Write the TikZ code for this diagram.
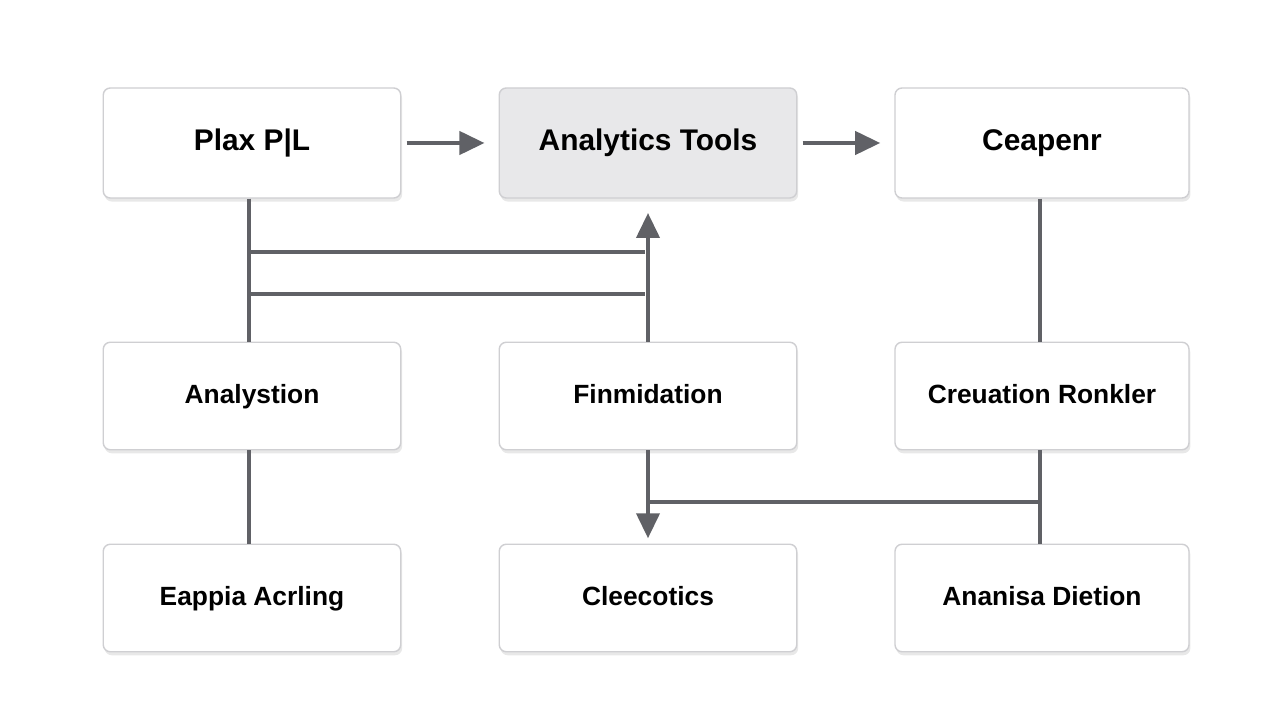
\documentclass[tikz,border=0pt]{standalone}
\usepackage{fontspec}
\setmainfont{Liberation Sans}
\usetikzlibrary{shadows,arrows.meta}
\definecolor{linegray}{HTML}{606166}
\definecolor{boxline}{HTML}{CFCFD2}
\definecolor{boxfill}{HTML}{E8E8EA}

\begin{document}
\begin{tikzpicture}[>={Triangle[length=5mm,width=4.6mm]},
  box/.style={draw=boxline,line width=0.8pt,fill=white,rounded corners=4pt,
    minimum width=5.95cm,minimum height=2.15cm,text height=2.3ex,text depth=0.6ex,
    font=\bfseries\fontsize{15}{18}\selectfont,
    drop shadow={opacity=0.18,shadow xshift=0.8pt,shadow yshift=-2pt}},
  wire/.style={linegray,line width=2.3pt}]
            \fill[white] (0,0) rectangle (25.6,14.4);

            \node[box,minimum height=2.2cm,font=\bfseries\fontsize{17}{20}\selectfont] (plax) at (5.04,11.54) {Plax P|L};
            \node[box,minimum height=2.2cm,fill=boxfill,font=\bfseries\fontsize{17}{20}\selectfont] (tools) at (12.96,11.54) {Analytics Tools};
            \node[box,minimum height=2.2cm,minimum width=5.88cm,font=\bfseries\fontsize{17}{20}\selectfont] (ceap) at (20.84,11.54) {Ceapenr};

            \node[box] (anal) at (5.04,6.48) {Analystion};
            \node[box] (finm) at (12.96,6.48) {Finmidation};
            \node[box,minimum width=5.88cm] (crel) at (20.84,6.48) {Creuation Ronkler};

            \node[box] (eapp) at (5.04,2.44) {Eappia Acrling};
            \node[box] (clee) at (12.96,2.44) {Cleecotics};
            \node[box,minimum width=5.88cm] (anan) at (20.84,2.44) {Ananisa Dietion};

            \coordinate (upend) at (12.96,10.14);
            \coordinate (jl1) at (4.98,9.36);
            \coordinate (jr1) at (12.90,9.36);
            \coordinate (jl2) at (4.98,8.52);
            \coordinate (jr2) at (12.90,8.52);
            \coordinate (jd) at (12.96,4.36);
            \coordinate (je) at (20.80,4.36);

            \draw[wire,->,shorten <=3pt,shorten >=8pt] (plax) -- (tools);
            \draw[wire,->,shorten <=3pt,shorten >=8pt] (tools) -- (ceap);
            \draw[wire] (plax.south -| jl1) -- (anal.north -| jl1);
            \draw[wire] (jl1) -- (jr1);
            \draw[wire] (jl2) -- (jr2);
            \draw[wire,->] (finm.north) -- (upend);
            \draw[wire] (ceap.south -| je) -- (crel.north -| je);
            \draw[wire] (anal.south -| jl1) -- (eapp.north -| jl1);
            \draw[wire,->,shorten >=3pt] (finm.south) -- (clee.north);
            \draw[wire] (jd) -- (je);
            \draw[wire] (crel.south -| je) -- (anan.north -| je);
\end{tikzpicture}
\end{document}
